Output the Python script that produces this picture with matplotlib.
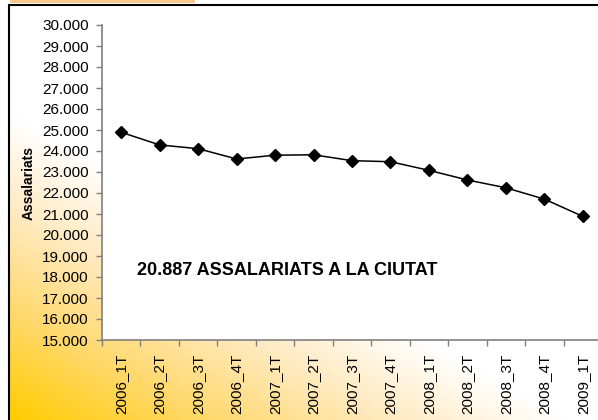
import numpy as np
import matplotlib
matplotlib.use("Agg")
import matplotlib.pyplot as plt
from matplotlib.colors import LinearSegmentedColormap
from matplotlib.patches import Rectangle
from matplotlib.ticker import FuncFormatter

plt.rcParams["font.family"] = ["Liberation Sans", "DejaVu Sans"]

# quarterly employee counts
quarters = ["2006_1T", "2006_2T", "2006_3T", "2006_4T",
            "2007_1T", "2007_2T", "2007_3T", "2007_4T",
            "2008_1T", "2008_2T", "2008_3T", "2008_4T", "2009_1T"]
employees = [24890, 24290, 24110, 23620, 23800, 23820, 23540,
             23490, 23080, 22620, 22250, 21710, 20887]
y_ticks = list(range(15000, 30001, 1000))

W, H = 598, 420
fig = plt.figure(figsize=(W / 100, H / 100), dpi=100)
fig.patch.set_facecolor("white")

# gradient background inside the outer frame
bg = fig.add_axes([8 / W, 0, 1 - 8 / W, 415 / H], zorder=0)
u = np.linspace(0, 1, 300)
v = np.linspace(0, 1, 220)
uu, vv = np.meshgrid(u, v)
f = np.clip(1 - (uu * 1.05 + vv * 1.35), 0, 1)
cmap = LinearSegmentedColormap.from_list(
    "fire", [(0, "#FFFFFF"), (0.3, "#FFEBC4"), (0.65, "#FFD86A"), (1, "#FFCC00")])
bg.imshow(f, cmap=cmap, origin="lower", aspect="auto", extent=[0, 1, 0, 1],
          vmin=0, vmax=1)
bg.set_axis_off()

# outer frame and orange strip at the top
fig.patches.append(Rectangle((8.5 / W, -0.05), 1.2, (415 / H) + 0.05,
                             transform=fig.transFigure, fill=False,
                             edgecolor="black", linewidth=1.5, zorder=1))
fig.patches.append(Rectangle((10 / W, 417 / H), 185 / W, 3 / H,
                             transform=fig.transFigure, facecolor="#F9C88E",
                             edgecolor="none", zorder=1))

ax = fig.add_axes([102 / W, 80 / H, 500 / W, 315 / H], zorder=2)
ax.set_facecolor("white")
x = np.arange(len(quarters))
ax.plot(x, employees, color="black", linewidth=1.1, marker="D",
        markersize=6.5, clip_on=False)

ax.set_xlim(-0.5, len(quarters) - 0.5)
ax.set_ylim(15000, 30000)
ax.set_yticks(y_ticks)
ax.yaxis.set_major_formatter(FuncFormatter(lambda val, p: f"{val / 1000:.3f}"))
ax.set_xticks(x)
ax.set_xticklabels(quarters, rotation=90, va="top", ha="center")
ax.set_xticks(np.arange(-0.5, len(quarters), 1), minor=True)

ax.tick_params(axis="x", which="major", length=0, pad=10, labelsize=11)
ax.tick_params(axis="x", which="minor", length=4, width=1, color="#808080",
               direction="out")
ax.tick_params(axis="y", length=4, width=1, color="#808080", direction="out",
               pad=5.5, labelsize=11)

for side in ["top", "right"]:
    ax.spines[side].set_visible(False)
for side in ["left", "bottom"]:
    ax.spines[side].set_color("#808080")
    ax.spines[side].set_linewidth(1.2)

ax.set_ylabel("Assalariats", fontsize=10, fontweight="bold")
ax.yaxis.set_label_coords(-0.132, 0.5)

ax.text(0.42, 18330, "20.887 ASSALARIATS A LA CIUTAT", fontsize=13,
        fontweight="bold", ha="left", va="center")

fig.savefig("out.png", dpi=100)
